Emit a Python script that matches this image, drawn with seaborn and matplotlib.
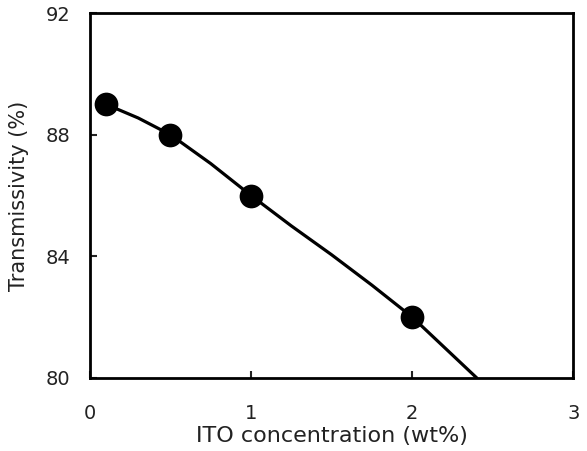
import matplotlib
matplotlib.use("Agg")
import matplotlib.pyplot as plt
import seaborn as sns
import pandas as pd

# measured points
ito_wt = [0.1, 0.5, 1.0, 2.0]
transmissivity = [89.0, 88.0, 86.0, 82.0]

# fitted curve
curve_x = [0.1, 0.3, 0.5, 0.75, 1.0, 1.25, 1.5, 1.75, 2.0, 2.2, 2.4]
curve_y = [89.0, 88.55, 88.0, 87.05, 86.0, 85.0, 84.05, 83.05, 82.0, 81.0, 80.0]

x_ticks = [0, 1, 2, 3]
y_ticks = [80, 84, 88, 92]

sns.set_style("ticks")
plt.rcParams['font.family'] = ['DejaVu Sans']

df_pts = pd.DataFrame({"x": ito_wt, "y": transmissivity})
df_curve = pd.DataFrame({"x": curve_x, "y": curve_y})

fig, ax = plt.subplots(figsize=(5.87, 4.51), dpi=100)
fig.subplots_adjust(left=0.153, right=0.977, top=0.971, bottom=0.162)

sns.lineplot(data=df_curve, x="x", y="y", color="black", linewidth=2.3, ax=ax)
sns.scatterplot(data=df_pts, x="x", y="y", color="black", s=250, edgecolor="black", zorder=3, ax=ax)

ax.set_xlim(0, 3)
ax.set_ylim(80, 92)
ax.set_xticks(x_ticks)
ax.set_yticks(y_ticks)
ax.tick_params(direction="in", length=5, width=1.5, labelsize=14, colors="#222222")
ax.tick_params(axis="x", pad=19)
ax.tick_params(axis="y", pad=14)
for s in ax.spines.values():
    s.set_visible(True)
    s.set_linewidth(2)
    s.set_color("black")

ax.set_xlabel("ITO concentration (wt%)", fontsize=16, labelpad=2, color="#222222")
ax.set_ylabel("Transmissivity (%)", fontsize=15, labelpad=12, color="#222222")

fig.savefig("out.png", dpi=100)
